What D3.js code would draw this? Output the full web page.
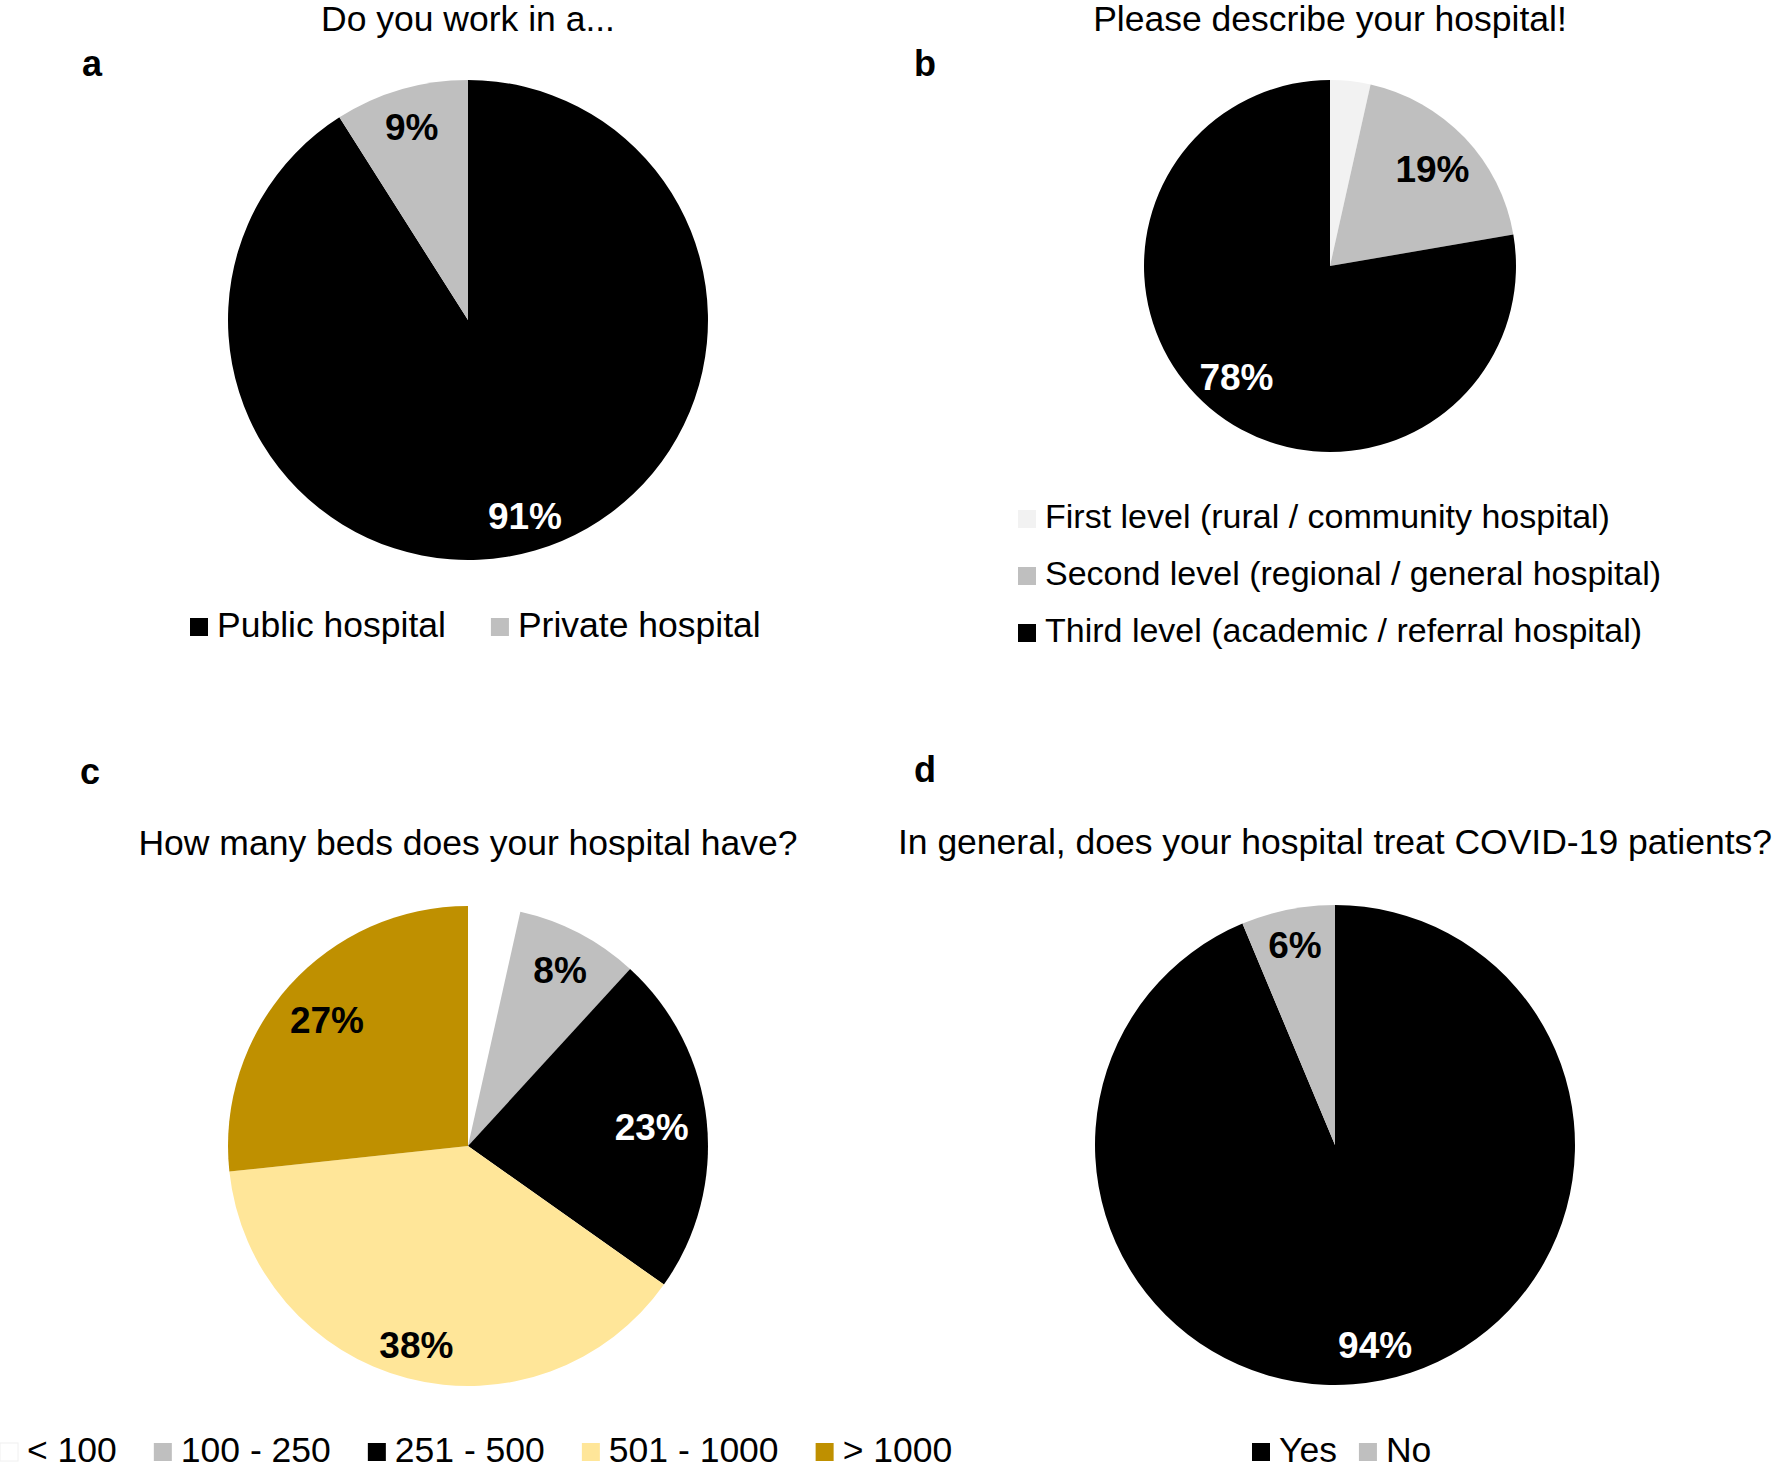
<!DOCTYPE html>
<html>
<head>
<meta charset="utf-8">
<script src="https://cdn.jsdelivr.net/npm/d3@7"></script>
<style>
  html, body { margin: 0; padding: 0; background: #fff; }
  svg { display: block; }
  text { font-family: "Liberation Sans", Arial, sans-serif; }
</style>
</head>
<body>
<svg id="chart" width="1774" height="1472"></svg>
<script>
// ---------- DATA ----------
const aTitle = "Do you work in a...";
const aCategories = ["Public hospital", "Private hospital"];
const aValues = [91, 9];
const aLabels = ["91%", "9%"];

const bTitle = "Please describe your hospital!";
const bCategories = ["First level (rural / community hospital)", "Second level (regional / general hospital)", "Third level (academic / referral hospital)"];
const bValues = [3.5, 18.8, 77.7];
const bLabels = ["", "19%", "78%"];

const cTitle = "How many beds does your hospital have?";
const cCategories = ["< 100", "100 - 250", "251 - 500", "501 - 1000", "> 1000"];
const cValues = [3.5, 8.3, 23.0, 38.5, 26.7];
const cLabels = ["", "8%", "23%", "38%", "27%"];

const dTitle = "In general, does your hospital treat COVID-19 patients?";
const dCategories = ["Yes", "No"];
const dValues = [93.7, 6.3];
const dLabels = ["94%", "6%"];

// ---------- STYLE / LAYOUT ----------
const aColors = ["#000000", "#bfbfbf"];
const bColors = ["#f2f2f2", "#bfbfbf", "#000000"];
const cColors = ["#ffffff", "#bfbfbf", "#000000", "#ffe699", "#bf9000"];
const dColors = ["#000000", "#bfbfbf"];

const panels = [
  { letter: "a", lx: 82, ly: 76, title: aTitle, tx: 468, ty: 31,
    cx: 468, cy: 320, r: 240, cats: aCategories, vals: aValues, labels: aLabels, colors: aColors,
    labelR: [0.85, 0.84],
    legend: { mode: "row", x: 190, y: 637, gap: 45, font: 35.5 } },
  { letter: "b", lx: 914, ly: 76, title: bTitle, tx: 1330, ty: 31,
    cx: 1330, cy: 266, r: 186, cats: bCategories, vals: bValues, labels: bLabels, colors: bColors,
    labelR: [0.8, 0.76, 0.78],
    legend: { mode: "col", x: 1018, y: 528, step: 57, font: 34 } },
  { letter: "c", lx: 80, ly: 784, title: cTitle, tx: 468, ty: 855,
    cx: 468, cy: 1146, r: 240, cats: cCategories, vals: cValues, labels: cLabels, colors: cColors,
    labelR: [0.8, 0.83, 0.77, 0.855, 0.79],
    legend: { mode: "row", x: 0, y: 1462, gap: 37, font: 35.5 } },
  { letter: "d", lx: 914, ly: 782, title: dTitle, tx: 1335, ty: 854,
    cx: 1335, cy: 1145, r: 240, cats: dCategories, vals: dValues, labels: dLabels, colors: dColors,
    labelR: [0.85, 0.85],
    legend: { mode: "row", x: 1252, y: 1462, gap: 22, font: 35.5 } }
];

const TITLE_FONT = 35.5, LABEL_FONT = 37, LETTER_FONT = 36, SQ = 18, SQ_GAP = 9;

const svg = d3.select("#chart");

panels.forEach(p => {
  const g = svg.append("g");

  // panel letter
  g.append("text").attr("x", p.lx).attr("y", p.ly)
    .attr("font-size", LETTER_FONT).attr("font-weight", "bold").attr("fill", "#000")
    .text(p.letter);

  // title
  g.append("text").attr("x", p.tx).attr("y", p.ty)
    .attr("text-anchor", "middle").attr("font-size", TITLE_FONT).attr("fill", "#000")
    .text(p.title);

  const data = p.cats.map((c, i) => ({ cat: c, value: p.vals[i], label: p.labels[i], color: p.colors[i], lr: p.labelR[i] }));
  const pie = d3.pie().sort(null).value(d => d.value);
  const arcs = pie(data);
  const arc = d3.arc().innerRadius(0).outerRadius(p.r);

  const pg = g.append("g").attr("transform", `translate(${p.cx},${p.cy})`);
  pg.selectAll("path").data(arcs).join("path")
    .attr("d", arc)
    .attr("fill", d => d.data.color);

  pg.selectAll("text.lbl").data(arcs.filter(d => d.data.label)).join("text")
    .attr("class", "lbl")
    .attr("transform", d => {
      const a = (d.startAngle + d.endAngle) / 2;
      const rr = p.r * d.data.lr;
      return `translate(${Math.sin(a) * rr},${-Math.cos(a) * rr})`;
    })
    .attr("text-anchor", "middle").attr("dy", "0.36em")
    .attr("font-size", LABEL_FONT).attr("font-weight", "bold")
    .attr("fill", d => d.data.color === "#000000" ? "#fff" : "#000")
    .text(d => d.data.label);

  // legend
  const L = p.legend;
  if (L.mode === "row") {
    let x = L.x;
    data.forEach(d => {
      g.append("rect").attr("x", x).attr("y", L.y - SQ - 1).attr("width", SQ).attr("height", SQ)
        .attr("fill", d.color)
        .attr("stroke", d.color === "#ffffff" ? "#f0f0f0" : "none").attr("stroke-width", 1);
      const t = g.append("text").attr("x", x + SQ + SQ_GAP).attr("y", L.y)
        .attr("font-size", L.font).attr("fill", "#000").text(d.cat);
      x = x + SQ + SQ_GAP + t.node().getComputedTextLength() + L.gap;
    });
  } else {
    data.forEach((d, i) => {
      const y = L.y + i * L.step;
      g.append("rect").attr("x", L.x).attr("y", y - SQ).attr("width", SQ).attr("height", SQ)
        .attr("fill", d.color);
      g.append("text").attr("x", L.x + SQ + 9).attr("y", y)
        .attr("font-size", L.font).attr("fill", "#000").text(d.cat);
    });
  }
});
</script>
</body>
</html>
